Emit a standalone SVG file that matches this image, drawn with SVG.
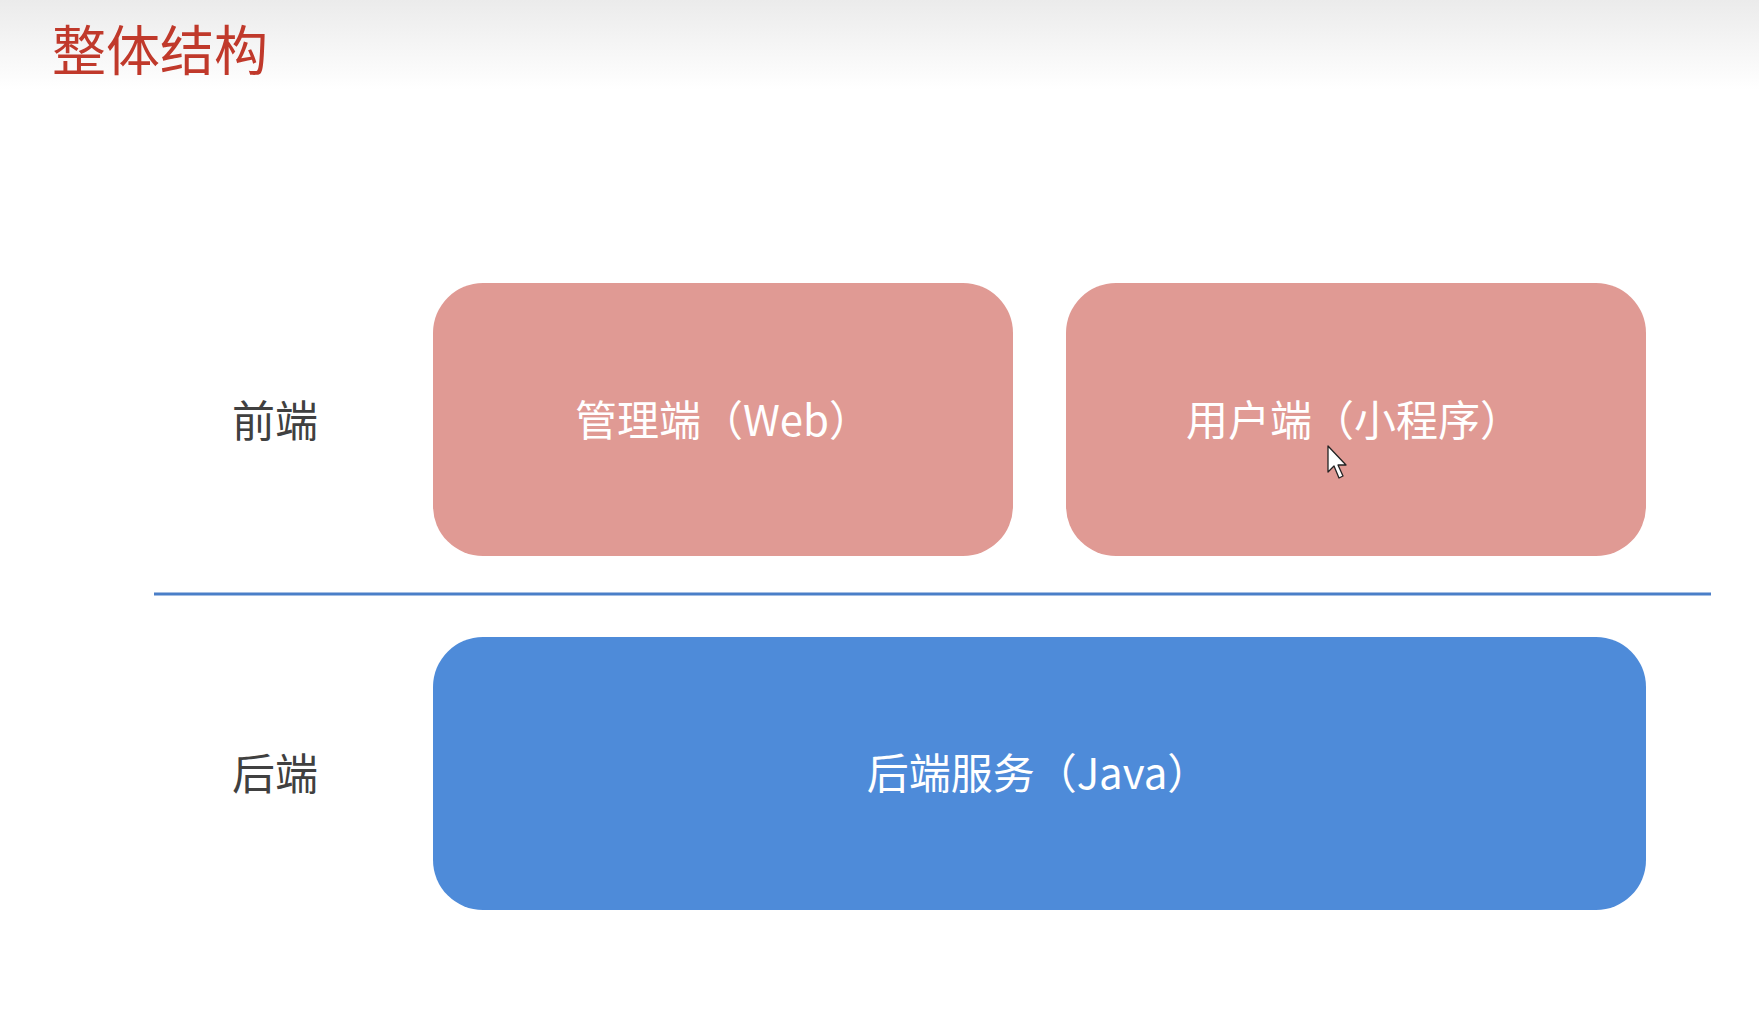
<svg xmlns="http://www.w3.org/2000/svg" width="1759" height="1020" viewBox="0 0 1759 1020">
  <defs>
    <linearGradient id="hdr" x1="0" y1="0" x2="0" y2="1">
      <stop offset="0" stop-color="#ebebeb"/>
      <stop offset="1" stop-color="#ffffff"/>
    </linearGradient>
    <filter id="blur" x="-5%" y="-200%" width="110%" height="500%">
      <feGaussianBlur stdDeviation="4"/>
    </filter>
  </defs>
  <style>
    text { font-family: "Noto Sans CJK SC", "Noto Sans", sans-serif; }
    .title { font-size: 54px; fill: #c0392b; }
    .side { font-size: 43px; fill: #404040; }
    .lbl { font-size: 42px; fill: #ffffff; text-anchor: middle; }
    .front { fill: #e09a94; }
    .back { fill: #4e8bd9; }
  </style>
  <rect x="0" y="0" width="1759" height="1020" fill="#ffffff"/>
  <rect x="0" y="0" width="1759" height="90" fill="url(#hdr)"/>
  <text class="title" x="52" y="71">整体结构</text>

  <text class="side" x="232" y="437">前端</text>
  <text class="side" x="232" y="790">后端</text>

  <g id="divider">
    <line x1="160" y1="601" x2="1705" y2="601" stroke="#c8c2bc" stroke-width="8" filter="url(#blur)"/>
    <line x1="154" y1="594" x2="1711" y2="594" stroke="#4a7fc8" stroke-width="3"/>
  </g>

  <g id="admin">
    <rect class="front" x="433" y="283" width="580" height="273" rx="50" ry="50"/>
    <text class="lbl" x="723" y="436">管理端（Web）</text>
  </g>
  <g id="user">
    <rect class="front" x="1066" y="283" width="580" height="273" rx="50" ry="50"/>
    <text class="lbl" x="1354" y="436">用户端（小程序）</text>
  </g>
  <g id="backend">
    <rect class="back" x="433" y="637" width="1213" height="273" rx="50" ry="50"/>
    <text class="lbl" x="1038" y="789">后端服务（Java）</text>
  </g>
  <g id="connectors"></g>

  <g id="cursor">
    <path d="M1328,446 L1328,472 L1334,466 L1339,478 L1343,476 L1338,465 L1346,465 Z" fill="#ffffff" stroke="#222222" stroke-width="1.3" stroke-linejoin="round"/>
  </g>
</svg>
